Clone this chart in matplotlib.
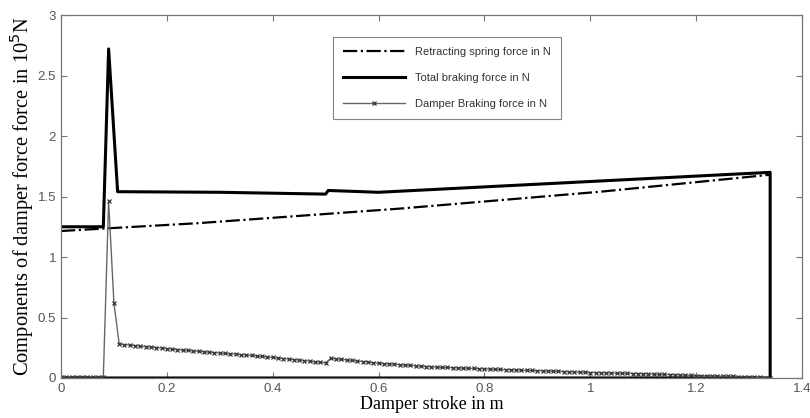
import numpy as np
import matplotlib
matplotlib.use("Agg")
import matplotlib.pyplot as plt

# Retracting spring force (x in m, y in 1e5 N)
spring_x = [0.0, 0.26, 0.64, 1.02, 1.34]
spring_y = [1.215, 1.28, 1.40, 1.54, 1.68]

# Total braking force (returns along zero after end of stroke)
total_x = [0.0, 0.08, 0.09, 0.107, 0.3, 0.5, 0.505, 0.6, 1.34, 1.34, 0.0]
total_y = [1.25, 1.25, 2.72, 1.54, 1.535, 1.52, 1.55, 1.535, 1.70, 0.0, 0.0]

# Damper braking force
damper_x = [0.0, 0.01, 0.02, 0.03, 0.04, 0.05, 0.06, 0.07, 0.08, 0.09, 0.10,
            0.11, 0.12, 0.13, 0.14, 0.15, 0.16, 0.17, 0.18, 0.19, 0.20,
            0.21, 0.22, 0.23, 0.24, 0.25, 0.26, 0.27, 0.28, 0.29, 0.30,
            0.31, 0.32, 0.33, 0.34, 0.35, 0.36, 0.37, 0.38, 0.39, 0.40,
            0.41, 0.42, 0.43, 0.44, 0.45, 0.46, 0.47, 0.48, 0.49, 0.50,
            0.51, 0.52, 0.53, 0.54, 0.55, 0.56, 0.57, 0.58, 0.59, 0.60,
            0.61, 0.62, 0.63, 0.64, 0.65, 0.66, 0.67, 0.68, 0.69, 0.70,
            0.71, 0.72, 0.73, 0.74, 0.75, 0.76, 0.77, 0.78, 0.79, 0.80,
            0.81, 0.82, 0.83, 0.84, 0.85, 0.86, 0.87, 0.88, 0.89, 0.90,
            0.91, 0.92, 0.93, 0.94, 0.95, 0.96, 0.97, 0.98, 0.99, 1.00,
            1.01, 1.02, 1.03, 1.04, 1.05, 1.06, 1.07, 1.08, 1.09, 1.10,
            1.11, 1.12, 1.13, 1.14, 1.15, 1.16, 1.17, 1.18, 1.19, 1.20,
            1.21, 1.22, 1.23, 1.24, 1.25, 1.26, 1.27, 1.28, 1.29, 1.30,
            1.31, 1.32, 1.33, 1.34]
damper_y = [0.01, 0.01, 0.01, 0.01, 0.01, 0.01, 0.01, 0.01, 0.01, 1.46, 0.62,
            0.280, 0.276, 0.272, 0.268, 0.264, 0.260, 0.256, 0.252, 0.248, 0.243,
            0.239, 0.235, 0.231, 0.228, 0.224, 0.220, 0.217, 0.213, 0.210, 0.207,
            0.203, 0.200, 0.197, 0.193, 0.190, 0.186, 0.182, 0.178, 0.174, 0.170,
            0.166, 0.161, 0.157, 0.152, 0.148, 0.143, 0.139, 0.134, 0.130, 0.125,
            0.163, 0.158, 0.154, 0.149, 0.145, 0.140, 0.136, 0.131, 0.127, 0.122,
            0.119, 0.116, 0.113, 0.110, 0.107, 0.104, 0.101, 0.098, 0.095, 0.092,
            0.090, 0.088, 0.087, 0.085, 0.083, 0.082, 0.080, 0.079, 0.077, 0.075,
            0.074, 0.072, 0.071, 0.069, 0.068, 0.066, 0.065, 0.063, 0.062, 0.060,
            0.059, 0.057, 0.056, 0.054, 0.053, 0.051, 0.050, 0.048, 0.047, 0.045,
            0.044, 0.043, 0.042, 0.041, 0.040, 0.039, 0.038, 0.037, 0.036, 0.035,
            0.034, 0.032, 0.031, 0.029, 0.028, 0.026, 0.025, 0.023, 0.022, 0.020,
            0.019, 0.018, 0.017, 0.016, 0.015, 0.014, 0.013, 0.012, 0.011, 0.010,
            0.008, 0.005, 0.003, 0.0]

x_ticks = [0, 0.2, 0.4, 0.6, 0.8, 1, 1.2, 1.4]
x_labels = ["0", "0.2", "0.4", "0.6", "0.8", "1", "1.2", "1.4"]
y_ticks = [0, 0.5, 1, 1.5, 2, 2.5, 3]
y_labels = ["0", "0.5", "1", "1.5", "2", "2.5", "3"]

fig = plt.figure(figsize=(8.1, 4.18), dpi=100)
ax = fig.add_axes([0.0753, 0.0957, 0.9147, 0.8683])

ax.plot(spring_x, spring_y, color="black", linestyle="-.", linewidth=1.6,
        label="Retracting spring force in N")
ax.plot(total_x, total_y, color="black", linestyle="-", linewidth=2.2,
        label="Total braking force in N")
ax.plot(damper_x, damper_y, color="#666666", linestyle="-", linewidth=1.0,
        marker="x", markersize=3.5, markeredgewidth=0.9, markeredgecolor="#333333",
        label="Damper Braking force in N")

ax.set_xlim(0, 1.4)
ax.set_ylim(0, 3)
ax.set_xticks(x_ticks)
ax.set_xticklabels(x_labels)
ax.set_yticks(y_ticks)
ax.set_yticklabels(y_labels)
ax.tick_params(direction="in", top=True, right=True, length=4, width=0.8,
               colors="#777777", labelcolor="#555555", labelsize=9.5)
for lab in ax.get_xticklabels() + ax.get_yticklabels():
    lab.set_family(["Liberation Sans", "DejaVu Sans"])
for s in ax.spines.values():
    s.set_color("#777777")
    s.set_linewidth(0.9)

ax.set_xlabel("Damper stroke in m", family=["Liberation Serif", "DejaVu Serif"],
              fontsize=13, labelpad=1)
ax.set_ylabel("Components of damper force force in 10$^5$N",
              family=["Liberation Serif", "DejaVu Serif"], fontsize=14.8, labelpad=1)

leg = ax.legend(loc="upper left", bbox_to_anchor=(0.359, 0.955), frameon=True,
                fancybox=False, edgecolor="#666666", handlelength=5.6,
                prop={"family": ["Liberation Sans", "DejaVu Sans"], "size": 8},
                labelspacing=1.45, borderpad=0.9, handletextpad=0.9)
leg.get_frame().set_linewidth(0.8)
for t in leg.get_texts():
    t.set_color("#333333")

fig.savefig("out.png", dpi=100)
